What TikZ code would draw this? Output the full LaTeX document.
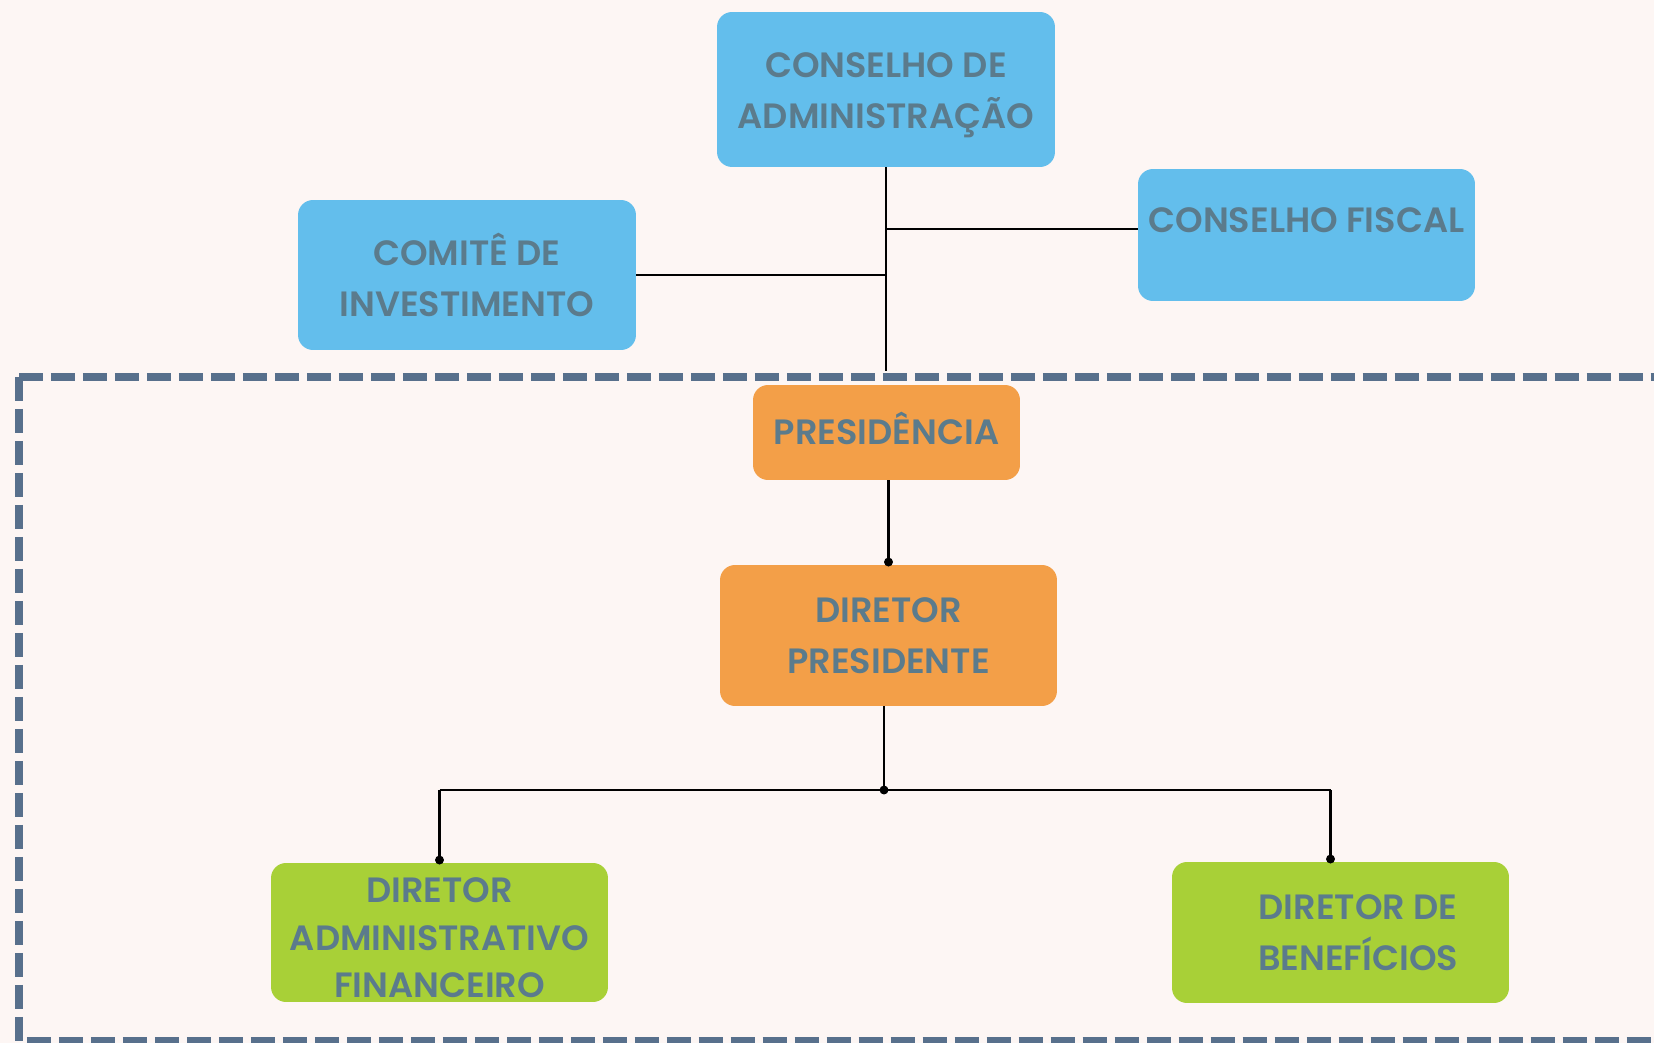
\documentclass[tikz,border=0pt]{standalone}
\usepackage{fontspec}
\setmainfont{Poppins}[BoldFont={* SemiBold}]
\usetikzlibrary{arrows.meta}

\definecolor{bgpink}{RGB}{253,246,244}
\definecolor{boxblue}{RGB}{99,190,236}
\definecolor{boxorange}{RGB}{243,159,72}
\definecolor{boxgreen}{RGB}{168,208,55}
\definecolor{labeltext}{RGB}{91,123,140}
\definecolor{dashline}{RGB}{88,112,140}

\tikzset{
    orgbox/.style={rounded corners=0.3cm, inner sep=0pt, align=center, text=labeltext,
        font=\bfseries\fontsize{20}{29}\selectfont},
    conselho/.style={orgbox, fill=boxblue},
    presidencia/.style={orgbox, fill=boxorange},
    diretoria/.style={orgbox, fill=boxgreen},
    link/.style={line width=1.2pt, black},
    linkdot/.style={link, -{Circle[length=5pt]}, shorten >=-1pt},
}

\begin{document}
\begin{tikzpicture}[x=0.02cm, y=-0.02cm]

    \fill[bgpink] (0,0) rectangle (1654,1043);
    \useasboundingbox (0,0) rectangle (1654,1043);

    % area da diretoria
    \draw[dashline, line width=4.5pt, dash pattern=on 0.48cm off 0.16cm] (19,377) -- (1670,377);
    \draw[dashline, line width=4.5pt, dash pattern=on 0.48cm off 0.16cm] (19,377) -- (19,1041) -- (1670,1041);

    % conselhos
    \node[conselho, minimum width=6.76cm, minimum height=3.10cm] (cadm) at (886,89.5) {\rule{0pt}{20.5pt}CONSELHO DE\\ADMINISTRAÇÃO};
    \node[conselho, minimum width=6.76cm, minimum height=3.00cm] (comite) at (467,275) {COMITÊ DE\\INVESTIMENTO};
    \node[conselho, minimum width=6.74cm, minimum height=2.64cm, text height=14pt, text depth=17pt] (fiscal) at (1306.5,235) {CONSELHO FISCAL};

    % presidencia
    \node[presidencia, minimum width=5.34cm, minimum height=1.90cm, text height=16pt, text depth=2.5pt] (presid) at (886.5,432.5) {PRESIDÊNCIA};
    \node[presidencia, minimum width=6.74cm, minimum height=2.82cm] (dirpres) at (888.5,635.5) {DIRETOR\\PRESIDENTE};

    % diretores
    \node[diretoria, minimum width=6.74cm, minimum height=2.78cm,
        font=\bfseries\fontsize{20}{27}\selectfont] (diradm) at (439.5,932.5) {\rule{0pt}{20.5pt}DIRETOR\\ADMINISTRATIVO\\FINANCEIRO};
    \node[diretoria, minimum width=6.74cm, minimum height=2.82cm] (dirben) at (1340.5,932.5) {\hspace*{20pt}DIRETOR DE\\\hspace*{20pt}BENEFÍCIOS};

    \coordinate (jtop) at (cadm.south |- 0,371);
    \coordinate (dpout) at ([xshift=-0.09cm]dirpres.south);
    \coordinate (jbot) at (dpout |- 0,790);
    \coordinate (benin) at ([xshift=-0.2cm]dirben.north);
    \coordinate (fiscin) at ([yshift=0.12cm]fiscal.west);

    \draw[link] (cadm.south) -- (jtop);
    \draw[link] (cadm.south |- fiscin) -- (fiscin);
    \draw[link] (comite.east) -- (comite.east -| cadm.south);

    \draw[linkdot] (dirpres.north |- presid.south) -- (dirpres.north);
    \draw[linkdot, shorten >=-2.5pt] (dpout) -- (jbot);
    \draw[link] (jbot -| diradm.north) -- (jbot -| benin);
    \draw[linkdot] (jbot -| diradm.north) -- (diradm.north);
    \draw[linkdot] (jbot -| benin) -- (benin);

\end{tikzpicture}
\end{document}
